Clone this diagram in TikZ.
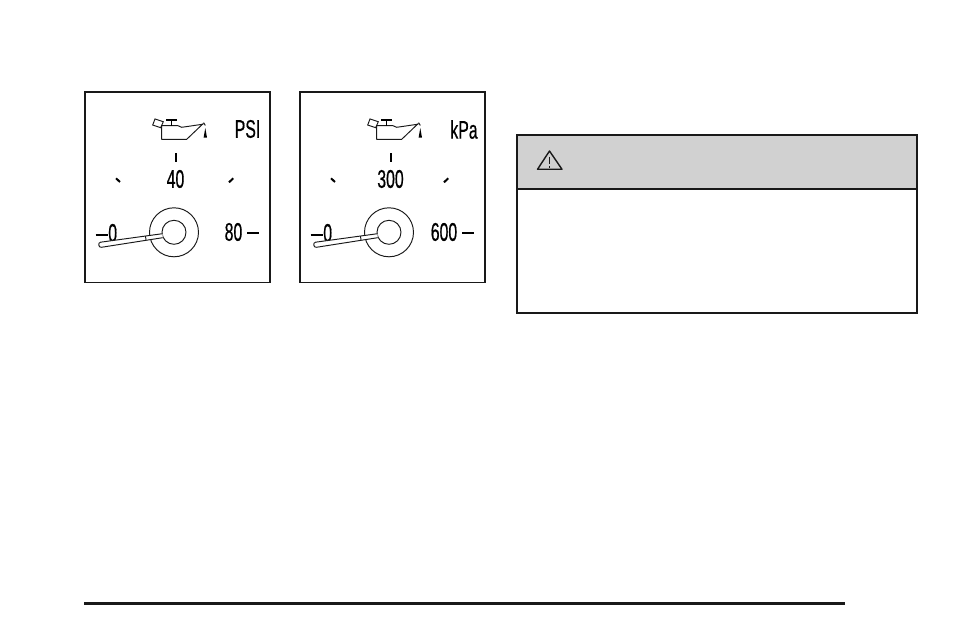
\documentclass[tikz,border=0pt]{standalone}
\usepackage{fontspec}
\setmainfont{Liberation Sans}
\newfontfamily\gaugefont[FakeStretch=.62,FakeBold=0.5]{Liberation Sans}
\tikzset{
  gaugetext/.style={inner sep=0pt,font=\gaugefont\fontsize{25.5}{26}\selectfont,text=black},
  thin line/.style={draw=black!90,line width=.95pt},
  gtick/.style={draw=black,line width=2pt},
}
\newcommand{\gauge}[5]{% x-offset, id, top label, right label, right label x
\begin{scope}[shift={(#1,0)}]
  \node[draw=black!90,line width=1.8pt,minimum width=185.3pt,minimum height=190.5pt,inner sep=0pt] (frame#2) at (177.4,187.2) {};
  % oil can
  \draw[thin line,line join=round] (161.7,125.7) -- (161.7,139.3) -- (186.7,139.3) -- (203.3,123.5)
     arc[start angle=0,end angle=110,radius=.9] -- (181.7,127.3) -- (178,125.7) -- cycle;
  \draw[thin line] (155,119) -- (163.3,121.7) -- (160.7,127.7) -- (152.7,125) -- cycle;
  \draw[draw=black,line width=1.3pt] (171.7,120) -- (171.7,125.7) (166,120) -- (176.7,120);
  \fill[black] (205.3,128) -- (207,137.6) -- (203.6,137.6) -- cycle;
  \draw[thin line] (203.6,122.6) -- (205.3,125.5);
  % ticks
  \draw[gtick] (175.7,153.3) -- (175.7,162.3);
  \draw[gtick] (116,178.3) -- (120,182);
  \draw[gtick] (233.3,178.3) -- (229,182.3);
  \draw[gtick] (95.7,235) -- (108.3,235);
  \draw[gtick] (247.3,233.3) -- (259,233.3);
  % labels
  \node[gaugetext] (zero#2) at (112.7,233) {0};
  \node[gaugetext] (top#2) at (175.5,179) {#3};
  \node[gaugetext] (right#2) at (#5,232) {#4};
  % dial
  \draw[thin line] (174,232.3) circle[radius=24.5];
  \draw[thin line] (174,232.3) circle[radius=12];
  \draw[thin line,fill=white,line join=round] (162.5,233.7) -- (100.6,242.2)
     .. controls (97.6,242.6) and (98.4,247.7) .. (101.4,247.3) -- (162.7,237.7);
  \draw[thin line] (145.5,236.2) -- (146,239.9);
\end{scope}}
\begin{document}
\begin{tikzpicture}[x=1pt,y=-1pt]
  \path[use as bounding box] (0,0) rectangle (954,636);
  \fill[white] (0,0) rectangle (954,636);
  \gauge{0}{a}{40}{80}{233.5}
  \node[gaugetext] (unita) at (247.5,129) {PSI};
  \gauge{215}{b}{300}{600}{229}
  \node[gaugetext] (unitb) at (464,129.5) {kPa};
  % warning box
  \node[draw=black!90,line width=1.7pt,fill=white,minimum width=400pt,minimum height=178pt,inner sep=0pt] (caution) at (717,224) {};
  \node[draw=black!90,line width=1.7pt,fill=black!18,minimum width=400pt,minimum height=54pt,inner sep=0pt] (header) at (717,162) {};
  \draw[draw=black!90,line width=1.4pt,line join=round] (549.5,151) -- (537.5,169.3) -- (562,169.3) -- cycle;
  \draw[draw=black!90,line width=1.2pt] (549.6,156.7) -- (549.6,164.3) (549.6,166) -- (549.6,167.6);
  % footer rule
  \draw[draw=black!90,line width=3pt] (84,603) -- (845,603);
\end{tikzpicture}
\end{document}
